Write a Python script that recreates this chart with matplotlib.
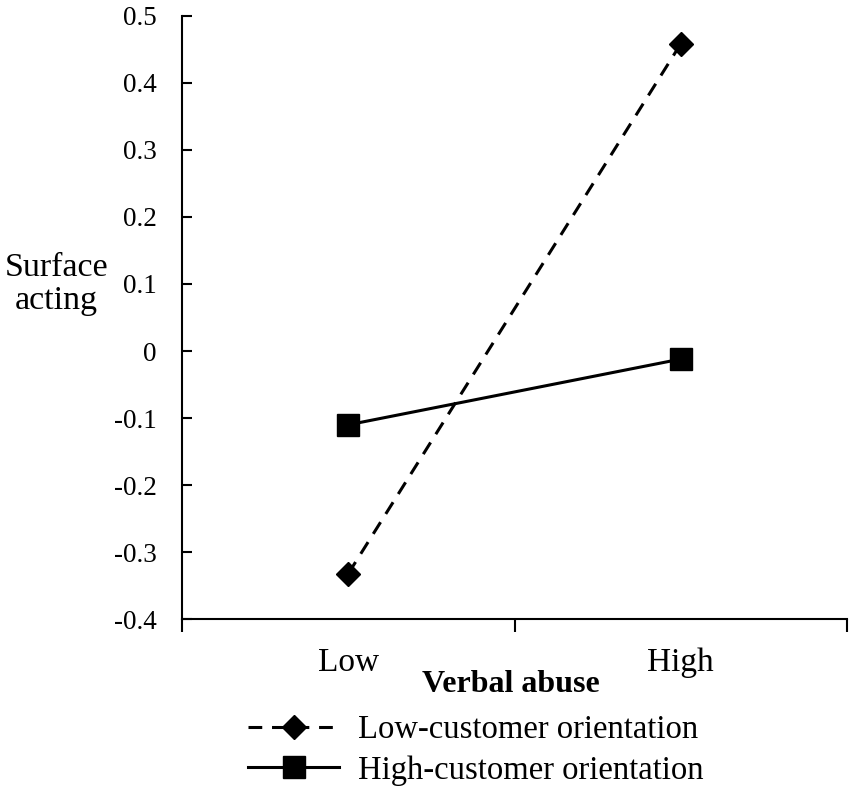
import matplotlib
matplotlib.use("Agg")
import matplotlib.pyplot as plt

plt.rcParams['font.family'] = ['Liberation Serif', 'DejaVu Serif']

# data
categories = ['Low', 'High']
low_orientation = [-0.332, 0.458]
high_orientation = [-0.110, -0.012]
series_labels = ['Low-customer orientation', 'High-customer orientation']
y_ticks = [-0.4, -0.3, -0.2, -0.1, 0, 0.1, 0.2, 0.3, 0.4, 0.5]

W, H = 851, 790
fig = plt.figure(figsize=(W / 100, H / 100), dpi=100)
ax = fig.add_axes([182 / W, 1 - 619.3 / H, (847 - 182) / W, (619.3 - 15.7) / H])

x = list(range(len(categories)))
ax.plot(x, low_orientation, color='black', lw=2.2, ls=(0, (4.5, 3.2)),
        marker='D', markersize=12, label=series_labels[0])
ax.plot(x, high_orientation, color='black', lw=2.2, ls='-',
        marker='s', markersize=16, label=series_labels[1])

ax.set_xlim(-0.5, 1.5)
ax.set_ylim(-0.4, 0.5)
ax.set_yticks(y_ticks)
ax.set_yticklabels(['0' if v == 0 else f'{v:.1f}' for v in y_ticks], fontsize=19.5)
ax.tick_params(axis='y', direction='in', length=7, width=1.5, pad=18)

ax.set_xticks([-0.5, 0.5, 1.5])
ax.set_xticklabels([])
ax.tick_params(axis='x', which='major', direction='out', length=9, width=1.5)
ax.set_xticks(x, minor=True)
ax.set_xticklabels(categories, minor=True, fontsize=24)
ax.tick_params(axis='x', which='minor', length=0, pad=20.5)

for side in ['top', 'right']:
    ax.spines[side].set_visible(False)
for side in ['left', 'bottom']:
    ax.spines[side].set_linewidth(1.5)

fig.text(56.5 / W, 1 - 284 / H, 'Surface\nacting', ha='center', va='center',
         fontsize=24.5, linespacing=1.12)
fig.text(511 / W, 1 - 684 / H, 'Verbal abuse', ha='center', va='center',
         fontsize=23, fontweight='bold')

fig.legend(loc='upper left', bbox_to_anchor=(248 / W, 1 - 715 / H),
           frameon=False, fontsize=23.5, handlelength=2.8, handletextpad=0.58,
           borderpad=0, borderaxespad=0, labelspacing=0.3)

fig.savefig('out.png', dpi=100)
